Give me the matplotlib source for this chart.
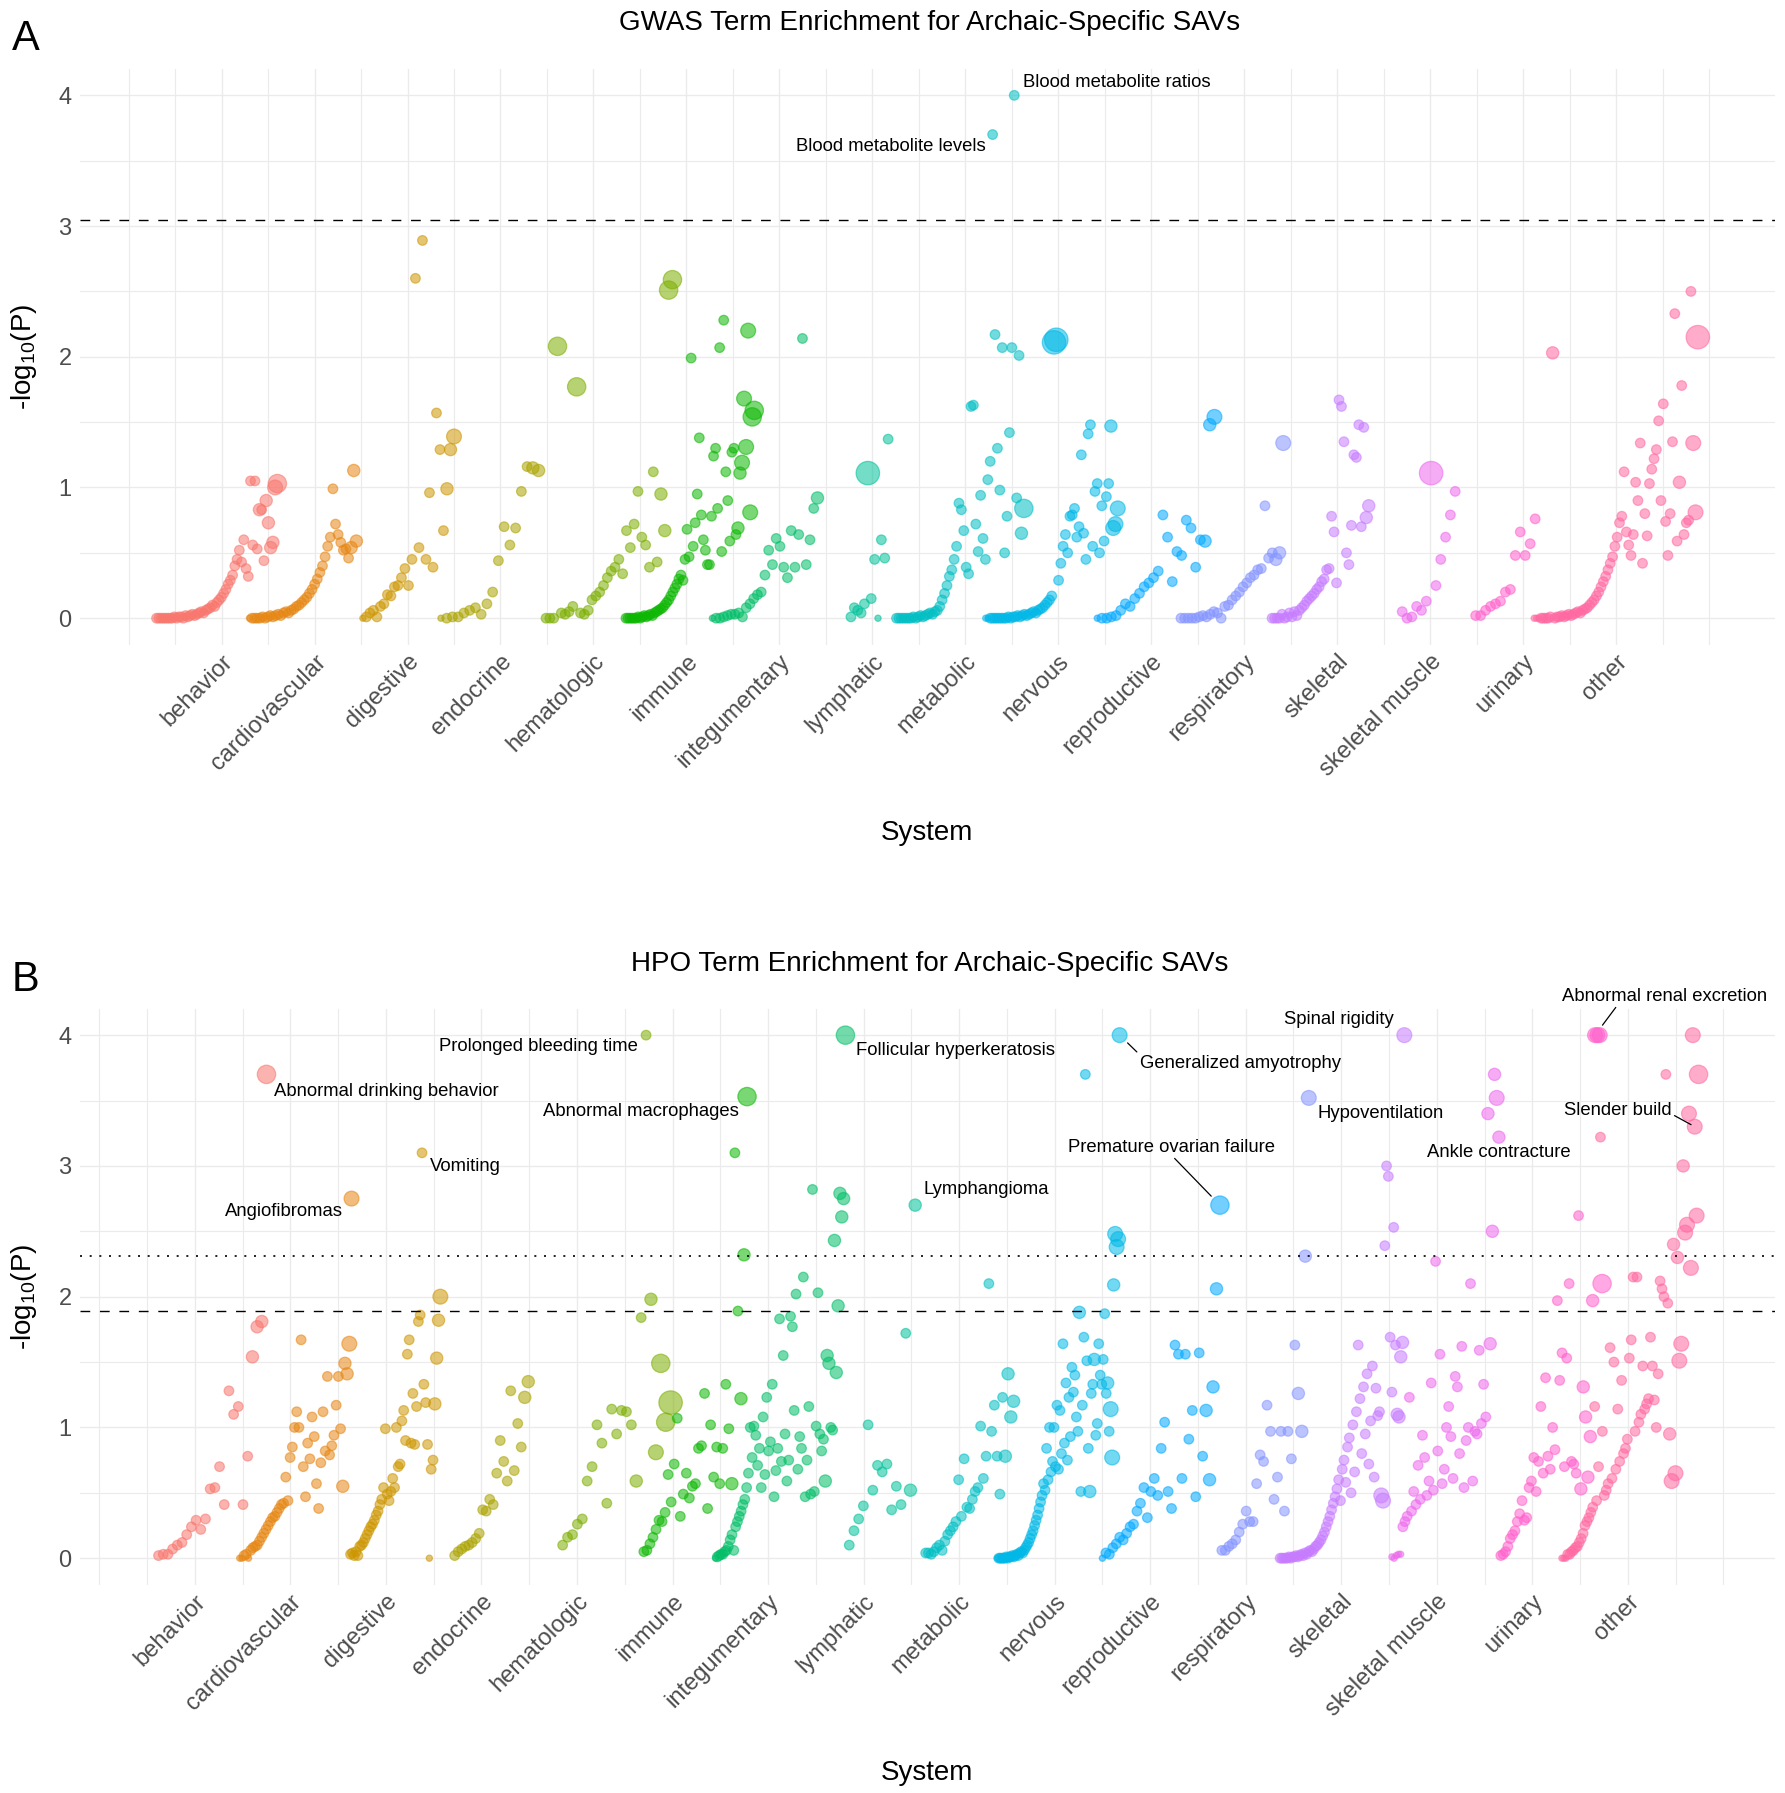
import math
import numpy as np
import matplotlib
matplotlib.use('Agg')
import matplotlib.pyplot as plt
import matplotlib.transforms as mtransforms

plt.rcParams['font.family'] = ['Liberation Sans', 'DejaVu Sans']
plt.rcParams['mathtext.fontset'] = 'custom'
plt.rcParams['mathtext.rm'] = 'Liberation Sans'

systems = ['behavior', 'cardiovascular', 'digestive', 'endocrine', 'hematologic',
           'immune', 'integumentary', 'lymphatic', 'metabolic', 'nervous',
           'reproductive', 'respiratory', 'skeletal', 'skeletal muscle',
           'urinary', 'other']

# -log10(P) of each term, listed in the left-to-right order of the plot.
# A tuple is (value, term size class); a bare number has size class 1.

# ---- GWAS terms ----
gwas_behavior = [0, 0, 0, 0, 0, 0, 0, 0, 0.01, 0, 0.01, 0.01, 0, 0.02, 0.01, 0.02, 0.03, 0.02, 0.03, 0.04,
                 0.05, 0.04, 0.06, 0.07, 0.08, 0.1, 0.09, 0.12, 0.14, 0.16, 0.19, 0.22, 0.26, 0.29, 0.33,
                 0.4, 0.45, 0.52, 0.43, 0.6, 0.38, 0.32, 1.05, 0.56, 1.05, 0.53, (0.83, 2), 0.83, 0.44,
                 (0.9, 2), (0.73, 2), (0.54, 2), (0.58, 2), (1.0, 3), (1.03, 4)]
gwas_cardiovascular = [(0, 0), 0, 0, 0, 0, 0.01, 0, 0.01, 0.02, 0.01, 0.02, 0.03, 0.02, 0.04, 0.05, 0.04,
                       0.06, 0.07, 0.09, 0.1, 0.12, 0.14, 0.16, 0.19, 0.22, 0.26, 0.3, 0.35, 0.4, 0.47, 0.55,
                       0.62, 0.99, 0.72, 0.64, 0.58, 0.52, 0.53, 0.46, (0.54, 2), (1.13, 2), (0.59, 2)]
gwas_digestive = [(0, 0), 0.01, 0.04, 0.06, 0.01, 0.09, 0.11, 0.18, 0.17, 0.24, 0.25, 0.31, 0.38, 0.25,
                  0.45, 2.6, 0.54, 2.89, 0.45, 0.96, 0.39, 1.57, 1.29, 0.67, (0.99, 2), (1.29, 2), (1.39, 3)]
gwas_endocrine = [(0, 0), 0, 0.01, 0.01, 0.04, 0.06, 0.08, 0.03, 0.11, 0.2, 0.44, 0.7, 0.56, 0.69, 0.97,
                  1.16, (1.15, 2), (1.13, 2)]
gwas_hematologic = [0, 0, 0, (2.08, 4), 0.04, 0.03, 0.05, 0.09, (1.77, 4), 0.04, 0.03, 0.06, 0.14, 0.17,
                    0.2, 0.25, 0.31, 0.36, 0.39, 0.45, 0.34, 0.67, 0.54, 0.72, 0.97, 0.62, 0.56, 0.39, 1.12,
                    0.43, (0.95, 2), (0.67, 2), (2.51, 4), (2.59, 4)]
gwas_immune = [0, 0, 0, 0, 0, 0, 0.01, 0, 0.01, 0.02, 0.01, 0.02, 0.03, 0.02, 0.04, 0.05, 0.06, 0.07,
               0.08, 0.1, 0.12, 0.14, 0.17, 0.2, 0.23, 0.26, 0.3, 0.33, 0.29, 0.45, 0.68, 0.47, 1.99, 0.55,
               0.73, 0.95, 1.38, 0.79, 0.6, 0.52, 0.41, 0.41, 0.78, 1.24, 1.3, 0.84, 2.07, 0.51, 2.28, 1.12,
               0.9, 0.59, 1.27, 1.3, 0.64, (0.69, 2), (1.11, 2), (1.19, 3), (1.68, 3), (1.31, 3), (2.2, 3),
               (0.81, 3), (1.54, 4), (1.59, 4)]
gwas_integumentary = [(0, 0), 0, 0, 0.01, 0.02, 0.03, 0.03, 0.04, 0.01, 0.08, 0.11, 0.15, 0.18, 0.2, 0.33,
                      0.52, 0.41, 0.61, 0.55, 0.39, 0.31, 0.67, 0.39, 0.64, 2.14, 0.41, 0.6, 0.84, (0.92, 2)]
gwas_lymphatic = [0.01, 0.08, 0.06, 0.04, 0.11, (1.11, 5), 0.15, 0.45, (0, 0), 0.6, 0.46, 1.37]
gwas_metabolic = [0, 0, 0, 0, 0, 0, 0, 0.01, 0, 0.01, 0.02, 0.01, 0.02, 0.03, 0.04, 0.03, 0.05, 0.06,
                  0.09, 0.14, 0.19, 0.25, 0.32, 0.37, 0.45, 0.55, 0.88, 0.83, 0.67, 0.39, 0.34, 1.62, 1.63,
                  0.72, 0.51, 0.94, 0.61, 0.45, 1.06, 1.2, 3.7, 2.17, 1.3, 0.98, 2.07, 0.5, 0.78, 1.42,
                  2.07, 4.0, 0.92, 2.01, (0.65, 2), (0.84, 4)]
gwas_nervous = [(0, 0), (0, 0), 0, 0, 0, 0, 0, 0, 0, 0, 0.01, 0, 0.01, 0.01, 0.02, 0.01, 0.02, 0.03, 0.02,
                0.03, 0.04, 0.05, 0.04, 0.06, 0.07, 0.08, 0.1, 0.12, 0.14, 0.17, (2.11, 5), (2.13, 5), 0.29,
                0.42, 0.55, 0.64, 0.5, 0.78, 0.79, 0.84, 0.62, 0.7, 1.25, 0.65, 0.45, 1.41, 1.48, 0.55,
                0.97, 1.03, 0.5, 0.86, 0.59, 0.93, 1.03, (1.47, 2), (0.69, 3), (0.72, 3), (0.84, 3)]
gwas_reproductive = [(0, 0), 0, 0, 0.01, 0.02, 0.06, 0.11, 0.09, 0.15, 0.19, 0.24, 0.27, 0.31, 0.36, 0.79,
                     0.62, 0.28, 0.51, 0.48, 0.75, 0.69, 0.39, 0.6, (0.59, 2), (1.48, 2), (1.54, 3)]
gwas_respiratory = [0, 0, 0, 0, 0, 0.01, 0.02, 0.01, 0.03, 0.05, 0.04, 0, 0.09, 0.1, 0.14, 0.17, 0.2,
                    0.24, 0.27, 0.31, 0.33, 0.37, 0.38, 0.86, 0.46, 0.5, (0.45, 2), (0.5, 2), (1.34, 3)]
gwas_skeletal = [0, 0, 0, 0, 0.03, 0, 0.01, 0.04, 0.01, 0.05, 0.02, 0.06, 0.08, 0.1, 0.13, 0.15, 0.17,
                 0.19, 0.22, 0.24, 0.28, 0.3, 0.37, 0.38, 0.78, 0.66, 0.27, 1.67, 1.62, 1.35, 0.5, 0.41,
                 0.71, 1.25, 1.23, 1.48, 0.7, 1.46, (0.77, 2), (0.86, 2)]
gwas_skeletal_muscle = [0.05, 0, 0.01, 0.09, 0.06, 0.13, (1.11, 5), 0.25, 0.45, 0.62, 0.79, 0.97]
gwas_urinary = [0.02, 0.02, 0.06, 0.09, 0.11, 0.13, 0.2, 0.22, 0.48, 0.66, 0.48, 0.57, 0.76]
gwas_other = [(0, 0), (0, 0), (0, 0), 0, 0, 0, 0, 0.01, (2.03, 2), 0, 0.01, 0.01, 0.02, 0.01, 0.02, 0.03,
              0.02, 0.03, 0.04, 0.05, 0.04, 0.06, 0.07, 0.08, 0.1, 0.12, 0.14, 0.17, 0.2, 0.24, 0.28,
              0.32, 0.37, 0.42, 0.47, 0.55, 0.62, 0.73, 0.78, 1.12, 0.66, 0.56, 0.48, 0.64, 1.04, 0.9,
              1.34, 0.42, 0.8, 0.63, 1.03, 1.14, 1.22, 1.29, 1.51, 0.9, 1.64, 0.74, 0.48, 0.8, 1.35, 2.33,
              0.59, (1.04, 2), 1.78, 0.64, 0.73, 0.75, 2.5, (1.34, 3), (0.81, 3), (2.15, 5)]

# ---- HPO terms ----
hpo_behavior = [0.02, 0.03, 0.03, 0.07, 0.1, 0.12, 0.18, 0.24, 0.29, 0.22, 0.3, 0.53, 0.54, 0.7, 0.41,
                1.28, 1.1, 1.16, 0.41, 0.78, (1.54, 2), (1.77, 2), (1.81, 2), (3.7, 4)]
hpo_cardiovascular = [(0, 0), (0, 0), 0.02, 0.03, (0, 0), 0.06, 0.08, 0.09, 0.1, 0.13, 0.16, 0.19, 0.22,
                      0.25, 0.28, 0.31, 0.32, 0.35, 0.38, 0.41, 0.42, 0.62, 0.44, 0.77, 0.85, 1.0, 1.12,
                      1.0, 1.67, 0.7, 0.47, 0.88, 0.76, 1.08, 0.93, 0.57, 0.38, 0.73, 1.12, 0.82, 1.39,
                      0.79, 0.86, 0.94, 1.17, 1.39, 0.99, (0.55, 2), (1.49, 2), (1.41, 2), (1.64, 3),
                      (2.75, 3)]
hpo_digestive = [0.03, 0.04, 0.02, 0.05, 0.02, 0.09, 0.1, 0.12, 0.15, 0.18, 0.21, 0.24, 0.26, 0.29, 0.33,
                 0.36, 0.41, 0.45, 0.54, 0.99, 0.49, 0.44, 0.51, 0.61, 0.54, 1.0, 0.7, 0.72, 1.05, 1.13,
                 0.9, 1.56, 1.67, 0.88, 1.26, 0.87, 1.16, 1.81, 1.86, 3.1, 1.33, 1.19, 0.87, (0, 0), 0.68,
                 0.75, (1.18, 2), (1.53, 2), (1.82, 2), (2.0, 3)]
hpo_endocrine = [0.02, 0.05, 0.07, 0.09, 0.1, 0.12, 0.15, 0.19, 0.37, 0.36, 0.45, 0.41, 0.65, 0.9, 0.74,
                 0.59, 1.28, 0.67, 1.03, 0.85, (1.23, 2), (1.35, 2)]
hpo_hematologic = [0.1, 0.16, 0.18, 0.26, 0.3, 0.59, 0.7, 1.02, 0.88, 0.42, 1.14, 0.95, 1.13, 1.12, 1.02,
                   (0.59, 2), 1.84, 4.0, (1.98, 2), (0.81, 3), (1.49, 4), (1.04, 4), (1.19, 5)]
hpo_immune = [0.05, 0.06, 0.11, 0.16, 0.22, 0.29, 0.28, 0.35, 0.64, 0.43, 0.72, 1.07, 0.32, 0.49, 0.65,
              0.46, 0.55, 0.57, 0.84, 0.86, 1.26, 0.38, 1.02, 0.62, 0.85, 0.57, 0.84, 1.33, 0.99,
              (0.57, 2), 3.1, 1.89, (1.22, 2), (2.32, 2), (3.53, 4)]
hpo_integumentary = [(0, 0), 0.01, 0.02, 0.03, 0.03, 0.05, 0.06, 0.09, 0.14, 0.18, 0.06, 0.24, 0.28, 0.32,
                     0.36, 0.41, 0.45, 0.54, 0.65, 1.0, 0.77, 1.01, 0.94, 0.71, 0.84, 0.54, 1.08, 0.64,
                     1.23, 0.82, 0.89, 1.33, 0.47, 0.67, 0.84, 1.83, 0.74, 1.55, 0.95, 0.59, 0.75, 1.85,
                     1.77, 1.13, 2.02, 0.68, 0.93, 0.84, 2.15, 0.47, 0.75, 1.16, 0.49, 2.82, 0.51, 1.01,
                     2.03, 0.95, 0.82, 0.91, (0.59, 2), (1.55, 2), (1.49, 2), 1.0, 0.98, (2.43, 2),
                     (1.42, 2), (1.93, 2), (2.79, 2), (2.61, 2), (2.75, 2), (4.0, 4)]
hpo_lymphatic = [0.1, 0.21, 0.3, 0.4, 1.02, 0.52, 0.71, 0.66, 0.72, 0.37, 0.55, 0.41, 1.72, (0.52, 2),
                 (2.7, 2)]
hpo_metabolic = [0.04, 0.04, 0.03, 0.05, 0.08, 0.1, 0.06, 0.13, 0.18, 0.21, 0.24, 0.28, 0.6, 0.32, 0.76,
                 0.39, 0.38, 0.45, 0.51, 0.54, 1.01, 0.61, 0.78, 2.1, 0.97, 1.17, 0.78, 0.49, 1.23,
                 (0.78, 2), (1.41, 2), (1.08, 2), (1.2, 2)]
hpo_nervous = [(0, 0), 0, 0, 0, 0, 0, 0.01, 0, 0.01, 0.01, 0.02, 0.01, 0.02, 0.03, 0.02, 0.04, 0.05, 0.04,
               0.06, 0.08, 0.1, 0.12, 0.15, 0.18, 0.21, 0.25, 0.29, 0.33, 0.38, 0.43, 0.48, 0.57, 0.52,
               0.84, 0.6, 1.0, 0.66, 0.74, 1.0, 0.7, 1.17, 0.68, 1.13, 0.8, 1.64, 0.88, 1.34, 0.75, 1.23,
               0.93, 1.46, 1.27, 1.4, 1.08, 0.97, (1.88, 2), 0.51, 1.17, 1.69, 3.7, 1.51, 0.84, (0.51, 2),
               1.26, 1.33, (1.52, 2), 0.94, 1.03, 1.64, 1.4, 1.33, 1.52, 1.87, 1.26, (1.34, 2), 0.97,
               (1.14, 3), (0.77, 3), (2.09, 2), (2.48, 3), (2.38, 3), (2.44, 3), (4.0, 3)]
hpo_reproductive = [(0, 0), 0.04, 0.03, 0.08, 0.11, 0.16, 0.14, 0.19, 0.24, 0.26, 0.36, 0.42, 0.54, 0.31,
                    0.51, 0.61, 0.48, 0.84, 1.04, 0.51, 0.38, 1.63, 1.56, 0.61, 1.56, 0.91, 1.13, 0.47,
                    1.57, 0.78, (1.13, 2), (0.6, 2), (1.31, 2), (2.06, 2), (2.7, 4)]
hpo_respiratory = [0.06, 0.06, 0.09, 0.11, 0.14, 0.2, 0.26, 0.36, 0.28, 0.28, 0.57, 0.79, 0.74, 1.17,
                   0.97, 0.45, 0.62, 0.97, 0.36, 0.97, 0.76, 1.63, (1.26, 2), (0.97, 2), (2.31, 2),
                   (3.52, 3)]
hpo_skeletal = [0, 0, 0, 0, 0, 0.01, 0, 0.01, 0.01, 0.02, 0.01, 0.02, 0.03, 0.02, 0.04, 0.03, 0.05, 0.06,
                0.05, 0.07, 0.09, 0.1, 0.12, 0.14, 0.17, 0.2, 0.24, 0.28, 0.32, 0.37, 0.42, 0.47, 0.53,
                0.6, 0.44, 0.68, 0.75, 0.58, 0.85, 0.92, 0.5, 1.02, 0.66, 1.12, 1.63, 1.22, 0.8, 1.31,
                0.95, 1.41, 0.72, 1.05, 1.47, 0.62, 1.3, 1.09, 1.12, (0.48, 3), (0.44, 3), 2.39, 3.0,
                2.92, 1.69, 1.27, 2.53, 1.63, (1.1, 2), (1.08, 2), (1.54, 2), (1.65, 2), (4.0, 3)]
hpo_skeletal_muscle = [(0.01, 0), (0, 0), (0.02, 0), (0.03, 0), (0.03, 0), 0.24, 0.28, 0.32, 1.23, 0.36,
                       0.51, 0.41, 0.71, 0.45, 0.94, 0.77, 0.48, 0.59, 1.34, 0.52, 2.27, 0.82, 1.56, 0.57,
                       0.68, 1.0, 1.16, 0.93, 0.61, 1.39, 1.31, 0.8, 1.62, 0.54, 0.9, 1.0, 2.1, 0.59,
                       0.97, 0.95, 1.59, 1.03, 1.33, 1.08, (3.4, 2), (1.64, 2), (2.5, 2), (3.7, 2),
                       (3.52, 3), (3.22, 2)]
hpo_urinary = [0.02, 0.03, 0.05, 0.09, 0.15, 0.18, 0.21, 0.28, 0.34, 0.44, 0.29, 0.31, 0.54, 0.59, 0.77,
               0.51, 0.74, 1.16, 0.65, 1.38, 0.78, 0.68, 1.0, 0.83, 1.97, 1.36, 1.57, 0.7, 1.53, 2.1, 0.74,
               0.72, 0.65, 2.62, (0.53, 2), (1.31, 2), (1.08, 2), (0.62, 2), (0.93, 2), (1.97, 2),
               (4.0, 3), (4.0, 3), (4.0, 3), (2.1, 4)]
hpo_other = [(0, 0), (0, 0), (0, 0), 0.03, 0.03, 0.05, 0.06, 0.08, 0.09, 0.12, 0.15, 0.19, 0.25, 0.28,
             0.31, 0.35, 0.39, 1.16, 0.44, 0.7, 3.22, 0.97, 0.48, 0.52, 0.57, 1.61, 0.61, 1.5, 0.68, 1.14,
             0.74, 1.36, 0.8, 0.84, 0.91, 1.53, 1.67, 2.15, 0.97, 2.15, 1.04, 1.1, 1.47, 1.14, 1.18, 1.22,
             1.69, 1.47, 1.21, 1.0, 1.41, 2.12, 2.06, 2.0, 3.7, 1.95, (0.95, 2), (0.59, 3), (2.4, 2),
             (0.65, 3), (2.3, 2), (1.51, 3), (1.64, 3), (3.0, 2), (2.49, 3), (2.55, 3), (3.4, 3),
             (2.22, 3), (4.0, 3), (3.3, 3), (2.62, 3), (3.7, 4)]

gwas_series = [gwas_behavior, gwas_cardiovascular, gwas_digestive, gwas_endocrine, gwas_hematologic,
               gwas_immune, gwas_integumentary, gwas_lymphatic, gwas_metabolic, gwas_nervous,
               gwas_reproductive, gwas_respiratory, gwas_skeletal, gwas_skeletal_muscle, gwas_urinary,
               gwas_other]
hpo_series = [hpo_behavior, hpo_cardiovascular, hpo_digestive, hpo_endocrine, hpo_hematologic,
              hpo_immune, hpo_integumentary, hpo_lymphatic, hpo_metabolic, hpo_nervous,
              hpo_reproductive, hpo_respiratory, hpo_skeletal, hpo_skeletal_muscle, hpo_urinary,
              hpo_other]

# significance cut-offs
gwas_cutoff = 3.05
hpo_cutoff = 1.89
hpo_cutoff_strict = 2.31

# labelled terms: (system, -log10(P), label)
gwas_notes = [('metabolic', 4.0, 'Blood metabolite ratios'),
              ('metabolic', 3.7, 'Blood metabolite levels')]
hpo_notes = [('hematologic', 4.0, 'Prolonged bleeding time'),
             ('behavior', 3.7, 'Abnormal drinking behavior'),
             ('digestive', 3.1, 'Vomiting'),
             ('cardiovascular', 2.75, 'Angiofibromas'),
             ('immune', 3.53, 'Abnormal macrophages'),
             ('integumentary', 4.0, 'Follicular hyperkeratosis'),
             ('lymphatic', 2.7, 'Lymphangioma'),
             ('nervous', 4.0, 'Generalized amyotrophy'),
             ('reproductive', 2.7, 'Premature ovarian failure'),
             ('respiratory', 3.52, 'Hypoventilation'),
             ('skeletal', 4.0, 'Spinal rigidity'),
             ('skeletal muscle', 3.22, 'Ankle contracture'),
             ('urinary', 4.0, 'Abnormal renal excretion'),
             ('other', 3.3, 'Slender build')]

# ---------------- layout / style ----------------
# spread of each system's points around its tick (in category units)
gwas_span = [(-0.70, 0.60), (-0.70, 0.45), (-0.48, 0.50), (-0.64, 0.41), (-0.51, 0.85), (-0.65, 0.73),
             (-0.72, 0.41), (-0.23, 0.17), (-0.74, 0.63), (-0.78, 0.64), (-0.58, 0.68), (-0.68, 0.42),
             (-0.70, 0.34), (-0.30, 0.27), (-0.51, 0.13), (-0.88, 0.88)]
hpo_span = [(-0.38, 0.75), (-0.53, 0.64), (-0.37, 0.57), (-0.28, 0.49), (-0.15, 0.98), (-0.30, 0.78),
            (-0.55, 0.81), (-0.15, 0.54), (-0.35, 0.57), (-0.60, 0.68), (-0.50, 0.73), (-0.25, 0.66),
            (-0.64, 0.66), (-0.47, 0.65), (-0.33, 0.73), (-0.69, 0.74)]

# label placement in pixels from the point: dx, dy, ha, leader (relpos, shrink) or None
note_style = {
    'Blood metabolite ratios': (9, 13, 'left', None),
    'Blood metabolite levels': (-7, -12, 'right', None),
    'Prolonged bleeding time': (-8, -11, 'right', None),
    'Abnormal drinking behavior': (8, -17, 'left', None),
    'Vomiting': (8, -14, 'left', None),
    'Angiofibromas': (-9, -13, 'right', None),
    'Abnormal macrophages': (-8, -15, 'right', None),
    'Follicular hyperkeratosis': (11, -15, 'left', None),
    'Lymphangioma': (8, 16, 'left', None),
    'Generalized amyotrophy': (20, -28, 'left', ((0, 1), 8)),
    'Premature ovarian failure': (-48, 58, 'center', ((0.5, 0), 9)),
    'Hypoventilation': (9, -16, 'left', None),
    'Spinal rigidity': (-11, 16, 'right', None),
    'Ankle contracture': (0, -15, 'center', None),
    'Abnormal renal excretion': (70, 39, 'center', ((0.27, 0), 9)),
    'Slender build': (-23, 16, 'right', ((1, 0.3), 3)),
}

SIZE_AREA = {0: 20, 1: 48, 2: 78, 3: 115, 4: 175, 5: 285}


def hue_color(h, c=100.0, l=65.0):
    # ggplot2 default hue palette (polar LUV -> sRGB)
    hr = math.radians(h)
    u, v = c * math.cos(hr), c * math.sin(hr)
    Y = ((l + 16) / 116) ** 3
    un, vn = 0.1978398, 0.4683363
    up = u / (13 * l) + un
    vp = v / (13 * l) + vn
    X = Y * 9 * up / (4 * vp)
    Z = Y * (12 - 3 * up - 20 * vp) / (4 * vp)
    rgb = [3.2404542 * X - 1.5371385 * Y - 0.4985314 * Z,
           -0.9692660 * X + 1.8760108 * Y + 0.0415560 * Z,
           0.0556434 * X - 0.2040259 * Y + 1.0572252 * Z]
    out = []
    for ch in rgb:
        ch = 12.92 * ch if ch <= 0.0031308 else 1.055 * ch ** (1 / 2.4) - 0.055
        out.append(min(max(ch, 0), 1))
    return tuple(out)


colors = [hue_color(15 + 360 * i / 16) for i in range(16)]


def unpack(vals):
    v = [p[0] if isinstance(p, tuple) else p for p in vals]
    s = [p[1] if isinstance(p, tuple) else 1 for p in vals]
    return np.array(v, dtype=float), s


def xpos(i, n, span):
    lo, hi = span
    return i + lo + (hi - lo) * np.arange(n) / max(n - 1, 1)


def draw_panel(ax, series, spans, xlim, notes, title, letter, title_y, letter_y, xlab_y):
    for i, (vals, span) in enumerate(zip(series, spans), start=1):
        v, s = unpack(vals)
        x = xpos(i, len(v), span)
        ax.scatter(x, v, s=[SIZE_AREA[k] for k in s], color=colors[i - 1], alpha=0.55,
                   edgecolors=colors[i - 1], linewidths=0.9, zorder=3)

    ax.set_xlim(*xlim)
    ax.set_ylim(-0.205, 4.2)
    ax.set_xticks(range(1, 17))
    ax.set_xticks(np.arange(0, 17.01, 0.5), minor=True)
    ax.set_yticks([0, 1, 2, 3, 4])
    ax.set_yticks([0.5, 1.5, 2.5, 3.5], minor=True)
    ax.set_xticklabels(systems, rotation=45, ha='right', va='top', rotation_mode='anchor',
                       fontsize=17, color='#4D4D4D')
    ax.set_yticklabels(['0', '1', '2', '3', '4'], fontsize=17, color='#4D4D4D')
    off = mtransforms.ScaledTranslation(4 / 100, 0, ax.figure.dpi_scale_trans)
    for lab in ax.get_xticklabels():
        lab.set_transform(lab.get_transform() + off)
    ax.tick_params(which='both', length=0)
    ax.tick_params(axis='x', pad=4)
    ax.tick_params(axis='y', pad=6)
    ax.grid(which='major', color='#EBEBEB', lw=1.0, zorder=0)
    ax.grid(which='minor', color='#EBEBEB', lw=0.8, zorder=0)
    for sp in ax.spines.values():
        sp.set_visible(False)

    for system, val, text in notes:
        i = systems.index(system)
        v, _ = unpack(series[i])
        k = int(np.where(np.isclose(v, val))[0][0])
        x = xpos(i + 1, len(v), spans[i])[k]
        dx, dy, ha, leader = note_style[text]
        kw = {}
        if leader is not None:
            relpos, shrink = leader
            kw['arrowprops'] = dict(arrowstyle='-', color='black', lw=0.9, shrinkA=0,
                                    shrinkB=shrink, relpos=relpos)
        ax.annotate(text, xy=(x, val), xytext=(dx, dy), textcoords='offset pixels',
                    ha=ha, va='center', fontsize=13.3, color='black', zorder=5, **kw)

    fig = ax.figure
    fig.text(930 / 1785, title_y, title, ha='center', va='baseline', fontsize=20)
    fig.text(12 / 1785, letter_y, letter, ha='left', va='baseline', fontsize=30)
    fig.text(927 / 1785, xlab_y, 'System', ha='center', va='baseline', fontsize=20)
    ax.set_ylabel('-log$_{\\mathregular{10}}$(P)', fontsize=20, labelpad=14)


fig = plt.figure(figsize=(17.85, 17.93), dpi=100)
axA = fig.add_axes([80 / 1785, 0.64027, 1695 / 1785, 0.32114])
axB = fig.add_axes([80 / 1785, 0.11601, 1695 / 1785, 0.32125])

draw_panel(axA, gwas_series, gwas_span, (-0.523, 17.71), gwas_notes,
           'GWAS Term Enrichment for Archaic-Specific SAVs', 'A', 0.98305, 0.97189, 0.5315)
axA.axhline(gwas_cutoff, color='black', lw=1.0, dashes=(7, 7), zorder=4)

draw_panel(axB, hpo_series, hpo_span, (-0.202, 17.54), hpo_notes,
           'HPO Term Enrichment for Archaic-Specific SAVs', 'B', 0.45845, 0.4473, 0.00725)
axB.axhline(hpo_cutoff, color='black', lw=1.0, dashes=(7, 7), zorder=4)
axB.axhline(hpo_cutoff_strict, color='black', lw=1.2, dashes=(1.2, 4.6), zorder=4)

fig.savefig('out.png', dpi=100)
